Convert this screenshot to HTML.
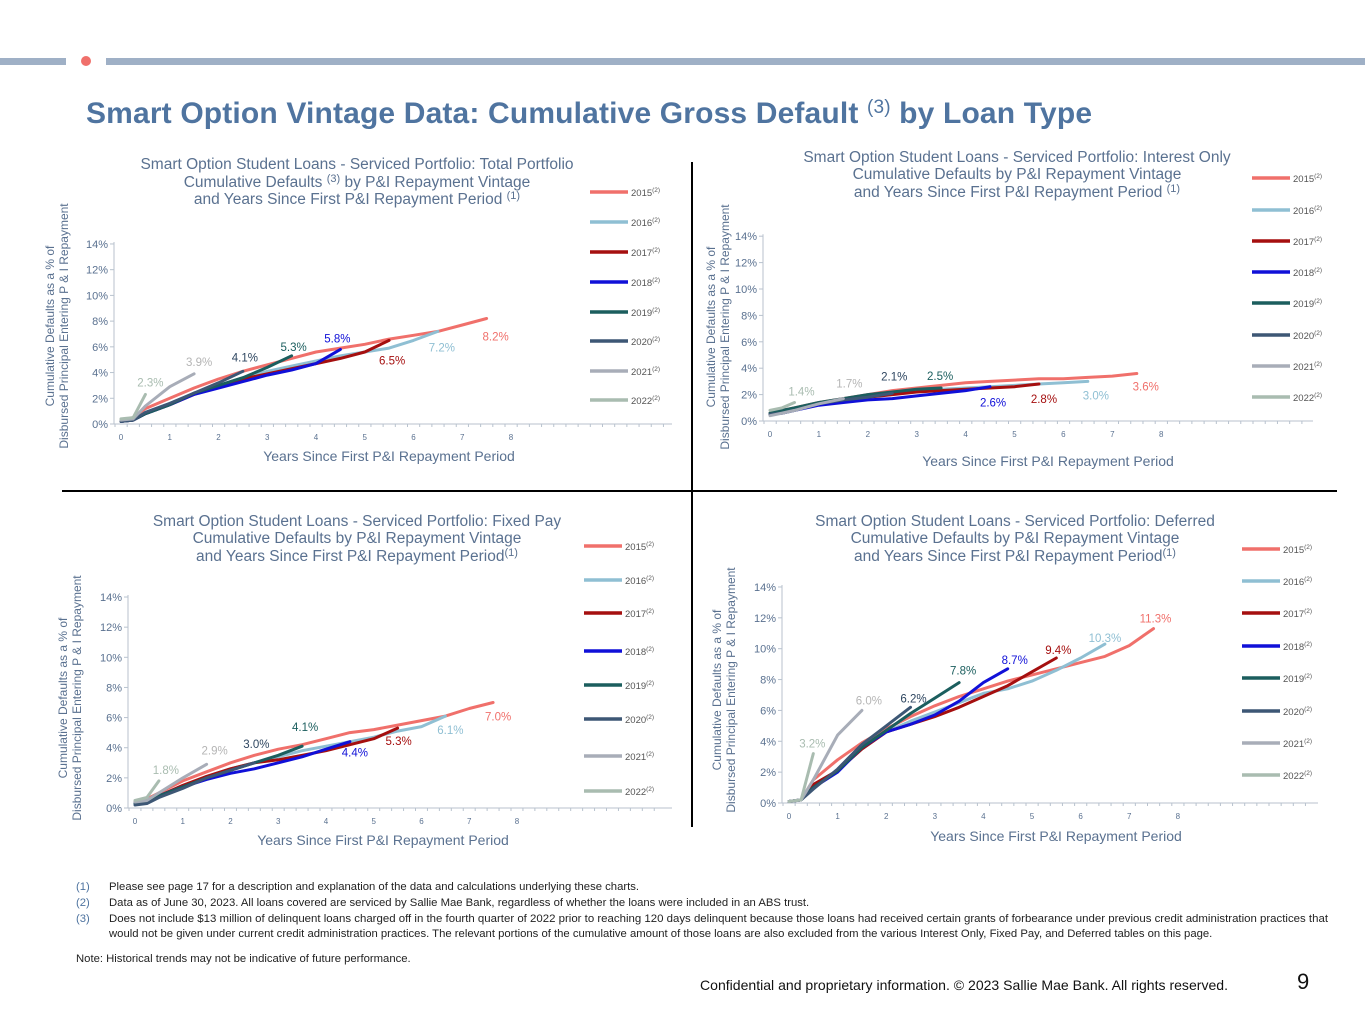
<!DOCTYPE html>
<html><head><meta charset="utf-8"><style>
html,body{margin:0;padding:0;background:#fff;}
body{width:1365px;height:1024px;position:relative;overflow:hidden;font-family:"Liberation Sans",sans-serif;}
svg text{font-family:"Liberation Sans",sans-serif;}
</style></head><body>
<svg id="page" width="1365" height="1024" viewBox="0 0 1365 1024" xmlns="http://www.w3.org/2000/svg">
<rect x="0" y="58" width="66" height="7" fill="#9fb0c6"/>
<circle cx="86" cy="61" r="5" fill="#f0706b"/>
<rect x="106" y="58" width="1259" height="7" fill="#9fb0c6"/>
<text x="86" y="123" font-size="30" font-weight="bold" fill="#4f74a0" textLength="1006" lengthAdjust="spacing">Smart Option Vintage Data: Cumulative Gross Default <tspan font-weight="normal" font-size="19" dy="-10">(3)</tspan><tspan dy="10"> by Loan Type</tspan></text>
<line x1="692" y1="162" x2="692" y2="827" stroke="#000" stroke-width="2"/>
<line x1="62" y1="491" x2="1337" y2="491" stroke="#000" stroke-width="2"/>
<g id="charts"></g>
<g font-size="11.3" fill="#222">
<text x="76" y="890" fill="#4f74a0">(1)</text>
<text x="109" y="890">Please see page 17 for a description and explanation of the data and calculations underlying these charts.</text>
<text x="76" y="906" fill="#4f74a0">(2)</text>
<text x="109" y="906">Data as of  June 30, 2023. All loans covered are serviced by Sallie Mae Bank, regardless of whether the loans were included in an ABS trust.</text>
<text x="76" y="922" fill="#4f74a0">(3)</text>
<text x="109" y="922" textLength="1219" lengthAdjust="spacingAndGlyphs">Does not include $13 million of delinquent loans charged off in the fourth quarter of 2022 prior to reaching 120 days delinquent because those loans had received certain grants of forbearance under previous credit administration practices that</text>
<text x="109" y="937">would not be given under current credit administration practices. The relevant portions of the cumulative amount of those loans are also excluded from the various Interest Only, Fixed Pay, and Deferred tables on this page.</text>
<text x="76" y="962">Note: Historical trends may not be indicative of future performance.</text>
</g>
<text x="700" y="990" font-size="14" fill="#111" textLength="528" lengthAdjust="spacingAndGlyphs">Confidential and proprietary information. © 2023 Sallie Mae Bank. All rights reserved.</text>
<text x="1297" y="989" font-size="22" fill="#111">9</text>
</svg>
<script>
const vintages = ["2015","2016","2017","2018","2019","2020","2021","2022"];
const years = [0,0.25,0.5,1,1.5,2,2.5,3,3.5,4,4.5,5,5.5,6,6.5,7,7.5];
const xTicks = [0,1,2,3,4,5,6,7,8];
const yTicks = [0,2,4,6,8,10,12,14];
const totalValues = [
 [0.3,0.5,1.2,2.0,2.8,3.5,4.1,4.6,5.1,5.6,5.9,6.2,6.6,6.9,7.2,7.7,8.2],
 [0.2,0.3,0.9,1.6,2.4,3.0,3.6,4.1,4.5,4.9,5.3,5.6,5.9,6.5,7.2],
 [0.2,0.3,0.8,1.5,2.3,3.0,3.5,3.9,4.3,4.7,5.1,5.6,6.5],
 [0.2,0.3,0.8,1.5,2.3,2.8,3.3,3.8,4.2,4.7,5.8],
 [0.2,0.3,0.8,1.5,2.4,3.0,3.6,4.4,5.3],
 [0.2,0.3,0.9,1.6,2.4,3.2,4.1],
 [0.3,0.4,1.4,2.9,3.9],
 [0.4,0.5,2.3]];
const interestOnlyValues = [
 [0.6,0.8,1.0,1.4,1.7,2.0,2.3,2.5,2.7,2.9,3.0,3.1,3.2,3.2,3.3,3.4,3.6],
 [0.5,0.7,0.9,1.3,1.6,1.9,2.1,2.3,2.4,2.5,2.6,2.7,2.8,2.9,3.0],
 [0.5,0.7,0.9,1.3,1.6,1.8,2.0,2.2,2.3,2.4,2.5,2.6,2.8],
 [0.5,0.6,0.8,1.2,1.4,1.6,1.7,1.9,2.1,2.3,2.6],
 [0.6,0.8,1.0,1.4,1.7,2.0,2.2,2.4,2.5],
 [0.5,0.6,0.8,1.3,1.6,1.8,2.1],
 [0.4,0.6,0.8,1.3,1.7],
 [0.8,1.0,1.4]];
const fixedPayValues = [
 [0.4,0.6,1.0,1.8,2.4,3.0,3.5,3.9,4.2,4.6,5.0,5.2,5.5,5.8,6.1,6.6,7.0],
 [0.3,0.4,0.8,1.4,2.1,2.6,3.0,3.4,3.8,4.1,4.4,4.7,5.1,5.4,6.1],
 [0.4,0.5,0.8,1.5,2.1,2.6,3.0,3.2,3.5,3.8,4.2,4.6,5.3],
 [0.3,0.4,0.8,1.4,1.9,2.3,2.6,3.0,3.4,3.9,4.4],
 [0.3,0.4,0.8,1.4,2.0,2.5,3.0,3.5,4.1],
 [0.2,0.3,0.7,1.3,2.0,2.5,3.0],
 [0.4,0.5,1.0,2.0,2.9],
 [0.5,0.7,1.8]];
const deferredValues = [
 [0.1,0.2,1.5,2.8,3.9,4.8,5.6,6.3,6.9,7.4,7.9,8.3,8.7,9.1,9.5,10.2,11.3],
 [0.1,0.2,1.2,2.1,3.5,4.6,5.3,5.9,6.5,7.1,7.4,7.9,8.6,9.4,10.3],
 [0.1,0.2,1.2,2.1,3.5,4.6,5.1,5.6,6.2,6.9,7.6,8.5,9.4],
 [0.1,0.2,1.0,2.0,3.6,4.6,5.1,5.7,6.6,7.8,8.7],
 [0.1,0.2,1.0,2.1,3.6,4.7,5.8,6.8,7.8],
 [0.1,0.2,0.9,2.2,3.8,5.0,6.2],
 [0.1,0.2,1.5,4.4,6.0],
 [0.1,0.2,3.2]];

const colors = ["#f0706b","#8fbfd3","#a50f0f","#1010d8","#1b5e5e","#3d5775","#a8adb8","#a9bcb0"];
const labelColors = ["#f0706b","#8fbfd3","#a50f0f","#1010d8","#1b5e5e","#2e4660","#b5b5b5","#a9bcb0"];
const NS = "http://www.w3.org/2000/svg";
function mk(tag, attrs, parent){const e=document.createElementNS(NS,tag);for(const k in attrs)e.setAttribute(k,attrs[k]);parent.appendChild(e);return e;}

const charts = [
 {key:"total",values:totalValues,ox:121,oy:424,pxYear:48.75,pxPct:12.86,axisX:114,axisEnd:672,
  title:[["Smart Option Student Loans - Serviced Portfolio: Total Portfolio",""],["Cumulative Defaults ","(3)"," by P&I Repayment Vintage"],["and Years Since First P&I Repayment Period ","(1)",""]],
  titleX:357,titleY:[169,187,204],xTitleX:389,xTitleY:461,yTitleX:[50,64],yTitleY:326,
  legX:590,legY:[192,222,252,282,312,341,371,400],
  lab:[[9,18],[4,16],[3,20],[-3,-11],[2,-9],[2,-14],[5,-12],[5,-12]]},
 {key:"interest-only",values:interestOnlyValues,ox:770,oy:421,pxYear:48.9,pxPct:13.2,axisX:763,axisEnd:1313,
  title:[["Smart Option Student Loans - Serviced Portfolio: Interest Only",""],["Cumulative Defaults by P&I Repayment Vintage",""],["and Years Since First P&I Repayment Period ","(1)",""]],
  titleX:1017,titleY:[162,179,197],xTitleX:1048,xTitleY:466,yTitleX:[711,725],yTitleY:327,
  legX:1252,legY:[178,210,241,272,303,335,366,397],
  lab:[[9,13],[8,14],[5,15],[3,16],[-1,-12],[2,-17],[6,-15],[7,-11]]},
 {key:"fixed-pay",values:fixedPayValues,ox:135,oy:808,pxYear:47.75,pxPct:15.07,axisX:128,axisEnd:672,
  title:[["Smart Option Student Loans - Serviced Portfolio: Fixed Pay",""],["Cumulative Defaults by P&I Repayment Vintage",""],["and Years Since First P&I Repayment Period","(1)",""]],
  titleX:357,titleY:[526,543,561],xTitleX:383,xTitleY:845,yTitleX:[63,77],yTitleY:698,
  legX:584,legY:[546,580,613,651,685,719,756,791],
  lab:[[5,14],[5,14],[1,13],[5,11],[3,-19],[2,-19],[8,-14],[7,-11]]},
 {key:"deferred",values:deferredValues,ox:789,oy:803,pxYear:48.6,pxPct:15.43,axisX:782,axisEnd:1318,
  title:[["Smart Option Student Loans - Serviced Portfolio: Deferred",""],["Cumulative Defaults by P&I Repayment Vintage",""],["and Years Since First P&I Repayment Period","(1)",""]],
  titleX:1015,titleY:[526,543,561],xTitleX:1056,xTitleY:841,yTitleX:[717,731],yTitleY:690,
  legX:1242,legY:[549,581,613,646,678,711,743,775],
  lab:[[2,-10],[0,-6],[2,-8],[7,-9],[4,-12],[3,-9],[7,-10],[-1,-10]]}
];
const root = document.getElementById("charts");
const txt = "#5a7190";
charts.forEach(c=>{
  const g = mk("g",{},root);
  
  
  const X = v => c.ox + v*c.pxYear;
  const Y = v => c.oy - v*c.pxPct;
  c.title.forEach((ln,i)=>{
    const t = mk("text",{x:c.titleX,y:c.titleY[i],"text-anchor":"middle","font-size":15.5,fill:"#5a7190"},g);
    
    
    const a = mk("tspan",{},t); a.textContent = ln[0];
    if(ln[1]){const s=mk("tspan",{"font-size":11,dy:-5},t); s.textContent=ln[1]; if(ln[2]){const b=mk("tspan",{dy:5},t); b.textContent=ln[2];}}
  });
  const ya = mk("line",{x1:c.axisX,y1:Y(14)-2,x2:c.axisX,y2:c.oy,stroke:"#b8c2ce","stroke-width":1},g);
  
  
  const xa = mk("line",{x1:c.axisX,y1:c.oy,x2:c.axisEnd,y2:c.oy,stroke:"#b8c2ce","stroke-width":1},g);
  
  
  for(let q=0; X(q/4)<=c.axisEnd; q++){
    mk("line",{x1:X(q/4)-6,y1:c.oy,x2:X(q/4)-6,y2:c.oy+3,stroke:"#b8c2ce","stroke-width":1},g);
  }
  yTicks.forEach(v=>{
    mk("line",{x1:c.axisX-4,y1:Y(v),x2:c.axisX,y2:Y(v),stroke:"#b8c2ce","stroke-width":1},g);
    const t = mk("text",{x:c.axisX-6,y:Y(v)+4,"text-anchor":"end","font-size":11,fill:txt},g);
    
    
    t.textContent = v+"%";
  });
  xTicks.forEach(v=>{
    const t = mk("text",{x:X(v),y:c.oy+16,"text-anchor":"middle","font-size":8,fill:txt},g);
    
    
    t.textContent = v;
  });
  const xt = mk("text",{x:c.xTitleX,y:c.xTitleY,"text-anchor":"middle","font-size":14,fill:txt},g);
  
  
  xt.textContent = "Years Since First P&I Repayment Period";
  ["Cumulative Defaults as a % of","Disbursed Principal  Entering P & I Repayment"].forEach((s,i)=>{
    const t = mk("text",{x:0,y:0,"text-anchor":"middle","font-size":12,fill:txt,transform:`translate(${c.yTitleX[i]+4},${c.yTitleY}) rotate(-90)`,"xml:space":"preserve"},g);
    
    
    t.textContent = s;
  });
  c.values.forEach((vals,i)=>{
    const pts = vals.map((v,j)=>X(years[j]).toFixed(1)+","+Y(v).toFixed(1)).join(" ");
    const p = mk("polyline",{points:pts,fill:"none",stroke:colors[i],"stroke-width":3,"stroke-linejoin":"round","stroke-linecap":"round"},g);
    
    
  });
  c.values.forEach((vals,i)=>{
    const n = vals.length-1;
    const t = mk("text",{x:X(years[n])+c.lab[i][0],y:Y(vals[n])+c.lab[i][1]+4,"text-anchor":"middle","font-size":11.5,fill:labelColors[i]},g);
    
    
    t.textContent = vals[n].toFixed(1)+"%";
  });
  vintages.forEach((v,i)=>{
    const lg = mk("g",{},g);
    
    
    mk("line",{x1:c.legX,y1:c.legY[i],x2:c.legX+38,y2:c.legY[i],stroke:colors[i],"stroke-width":3.5},lg);
    const t = mk("text",{x:c.legX+41,y:c.legY[i]+4,"font-size":9.5,fill:"#555"},lg);
    const a = mk("tspan",{},t); a.textContent=v;
    const s = mk("tspan",{"font-size":6.5,dy:-4},t); s.textContent="(2)";
  });
});
</script>
</body></html>
